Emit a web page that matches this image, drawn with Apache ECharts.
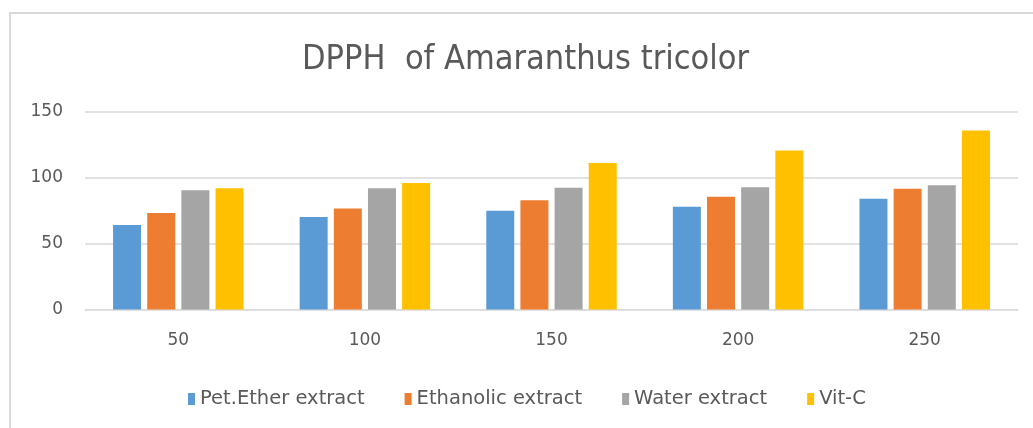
<!DOCTYPE html>
<html>
<head>
<meta charset="utf-8">
<script src="https://cdn.jsdelivr.net/npm/echarts@6/dist/echarts.min.js"></script>
<style>
html,body{margin:0;padding:0;background:#fff;}
#chart{width:1033px;height:428px;}
</style>
</head>
<body>
<div id="chart"></div>
<script>
const categories = ['50', '100', '150', '200', '250'];
const seriesNames = ['Pet.Ether extract', 'Ethanolic extract', 'Water extract', 'Vit-C'];
const petEther = [64.1, 70.2, 75.0, 78.1, 84.2];
const ethanolic = [73.3, 76.8, 82.9, 85.7, 91.8];
const water = [90.5, 92.0, 92.5, 92.8, 94.3];
const vitC = [92.0, 96.1, 111.3, 120.7, 135.9];
const colors = ['#5b9bd5', '#ed7d31', '#a5a5a5', '#ffc000'];
const values = [petEther, ethanolic, water, vitC];

const chart = echarts.init(document.getElementById('chart'));
const narrow = "'Liberation Sans Narrow', 'DejaVu Sans Condensed', 'Liberation Sans', sans-serif";
const regular = "'DejaVu Sans', 'Liberation Sans', sans-serif";
chart.setOption({
  animation: false,
  backgroundColor: '#ffffff',
  color: colors,
  graphic: [{
    type: 'rect',
    shape: { x: 10, y: 13, width: 1100, height: 500 },
    style: { fill: 'none', stroke: '#d9d9d9', lineWidth: 2 },
    silent: true
  }],
  title: {
    text: 'DPPH  of Amaranthus tricolor',
    left: 297,
    top: 38,
    textStyle: { fontFamily: narrow, fontSize: 34, fontWeight: 'normal', color: '#595959' }
  },
  legend: {
    data: seriesNames,
    top: 384,
    left: 183,
    icon: 'rect',
    itemWidth: 7,
    itemHeight: 12,
    itemGap: 40,
    textStyle: { fontFamily: regular, fontSize: 19.5, color: '#595959' }
  },
  grid: { left: 85, right: 15, top: 112, bottom: 118.5 },
  xAxis: {
    type: 'category',
    data: categories,
    axisLine: { show: true, lineStyle: { color: '#d9d9d9', width: 1 } },
    axisTick: { show: false },
    axisLabel: { margin: 23, fontFamily: regular, fontSize: 17, color: '#595959' }
  },
  yAxis: {
    type: 'value',
    min: 0, max: 150, interval: 50,
    axisLine: { show: false },
    axisTick: { show: false },
    splitLine: { lineStyle: { color: '#d9d9d9', width: 1.5 } },
    axisLabel: { margin: 22, fontFamily: regular, fontSize: 17, color: '#595959' }
  },
  series: seriesNames.map((n, i) => ({
    name: n,
    type: 'bar',
    data: values[i],
    barWidth: 28,
    barGap: '22%',
    itemStyle: { color: colors[i] }
  }))
});
</script>
</body>
</html>
